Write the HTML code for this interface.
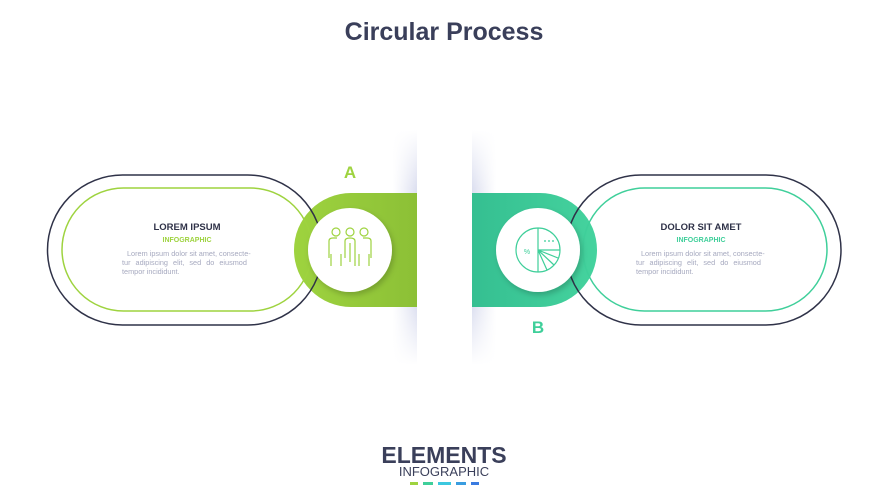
<!DOCTYPE html>
<html><head><meta charset="utf-8"><style>
body{margin:0;background:#fff;}
svg{display:block;font-family:"Liberation Sans",sans-serif;}
</style></head><body>
<svg width="889" height="500" viewBox="0 0 889 500" xmlns="http://www.w3.org/2000/svg">
<defs>
<linearGradient id="sl" x1="0" x2="1" y1="0" y2="0"><stop offset="0" stop-color="#e4e6f3" stop-opacity="0"/><stop offset="1" stop-color="#dcdff0"/></linearGradient>
<linearGradient id="sr" x1="1" x2="0" y1="0" y2="0"><stop offset="0" stop-color="#e4e6f3" stop-opacity="0"/><stop offset="1" stop-color="#dcdff0"/></linearGradient>
<linearGradient id="vf" x1="0" x2="0" y1="0" y2="1"><stop offset="0" stop-color="#fff" stop-opacity="1"/><stop offset="0.25" stop-color="#fff" stop-opacity="0"/><stop offset="0.75" stop-color="#fff" stop-opacity="0"/><stop offset="1" stop-color="#fff" stop-opacity="1"/></linearGradient>
<linearGradient id="gg" x1="0" x2="1"><stop offset="0" stop-color="#9ed33f"/><stop offset="1" stop-color="#8cc036"/></linearGradient>
<linearGradient id="tg" x1="0" x2="1"><stop offset="0" stop-color="#35bf91"/><stop offset="1" stop-color="#45d39e"/></linearGradient>
<filter id="sh" x="-30%" y="-30%" width="160%" height="160%"><feDropShadow dx="2" dy="3" stdDeviation="3" flood-opacity="0.2"/></filter>
</defs>
<text x="444" y="40" text-anchor="middle" font-size="25" font-weight="bold" fill="#3a3f5a">Circular Process</text>

<rect x="393" y="130" width="24" height="235" fill="url(#sl)"/>
<rect x="472" y="130" width="24" height="235" fill="url(#sr)"/>
<rect x="390" y="130" width="110" height="235" fill="url(#vf)"/>

<!-- left -->
<path d="M351 193 H417 V307 H351 A57 57 0 0 1 351 193 Z" fill="url(#gg)"/>
<rect x="47.5" y="175" width="275" height="150" rx="75" fill="none" stroke="#2f3248" stroke-width="1.5"/>
<rect x="62" y="188" width="250" height="123" rx="61.5" fill="none" stroke="#9ed33f" stroke-width="1.5"/>
<circle cx="350" cy="250" r="42" fill="#fff" filter="url(#sh)"/>
<g fill="none" stroke="#9ed33f" stroke-width="1.2">
<circle cx="336" cy="232" r="4"/><circle cx="350" cy="232" r="4"/><circle cx="364" cy="232" r="4"/>
<path d="M331 266 V254 M329 258 V241 Q329 238 333 238 H337 M341 266 V254 M355 266 V254 M345 258 V241 Q345 238 350 238 Q355 238 355 241 V258 M350 243 V262 M359 266 V254 M363 238 H367 Q371 238 371 241 V258 M369 266 V254"/>
</g>
<text x="350" y="178" text-anchor="middle" font-size="17" font-weight="bold" fill="#9ed33f">A</text>
<text x="187" y="230" text-anchor="middle" font-size="9.5" font-weight="bold" fill="#2f3248">LOREM IPSUM</text>
<text x="187" y="242" text-anchor="middle" font-size="7" font-weight="bold" fill="#9ed33f">INFOGRAPHIC</text>
<g font-size="7.3" fill="#a6a9bf"><text x="127" y="256">Lorem ipsum dolor sit amet, consecte-</text><text x="122" y="265" word-spacing="3">tur adipiscing elit, sed do eiusmod</text><text x="122" y="274">tempor incididunt.</text></g>

<!-- right -->
<path d="M472 193 H540 A57 57 0 0 1 540 307 H472 Z" fill="url(#tg)"/>
<rect x="566" y="175" width="275" height="150" rx="75" fill="none" stroke="#2f3248" stroke-width="1.5"/>
<rect x="583" y="188" width="244" height="123" rx="61.5" fill="none" stroke="#3fcf9a" stroke-width="1.5"/>
<circle cx="538" cy="250" r="42" fill="#fff" filter="url(#sh)"/>
<g fill="none" stroke="#3fcf9a" stroke-width="1.2">
<circle cx="538" cy="250" r="22"/>
<path d="M538 228 V272 M538 250 H560 M538 250 L558 258 M538 250 L554 265 M538 250 L547 270"/>
<path d="M544 241 h2 M548 241 h2 M552 241 h2" />
</g>
<text x="527" y="254" text-anchor="middle" font-size="7" fill="#3fcf9a">%</text>
<text x="538" y="333" text-anchor="middle" font-size="17" font-weight="bold" fill="#3fcf9a">B</text>
<text x="701" y="230" text-anchor="middle" font-size="9.5" font-weight="bold" fill="#2f3248">DOLOR SIT AMET</text>
<text x="701" y="242" text-anchor="middle" font-size="7" font-weight="bold" fill="#3fcf9a">INFOGRAPHIC</text>
<g font-size="7.3" fill="#a6a9bf"><text x="641" y="256">Lorem ipsum dolor sit amet, consecte-</text><text x="636" y="265" word-spacing="3">tur adipiscing elit, sed do eiusmod</text><text x="636" y="274">tempor incididunt.</text></g>

<!-- footer -->
<text x="444" y="463" text-anchor="middle" font-size="23" font-weight="bold" fill="#3a3f5a">ELEMENTS</text>
<text x="444" y="476" text-anchor="middle" font-size="13" fill="#3a3f5a">INFOGRAPHIC</text>
<rect x="410" y="482" width="8" height="3" fill="#9ed33f"/>
<rect x="423" y="482" width="10" height="3" fill="#3fcf9a"/>
<rect x="438" y="482" width="13" height="3" fill="#3cc8df"/>
<rect x="456" y="482" width="10" height="3" fill="#3a9de0"/>
<rect x="471" y="482" width="8" height="3" fill="#3a7be0"/>
</svg>
</body></html>
